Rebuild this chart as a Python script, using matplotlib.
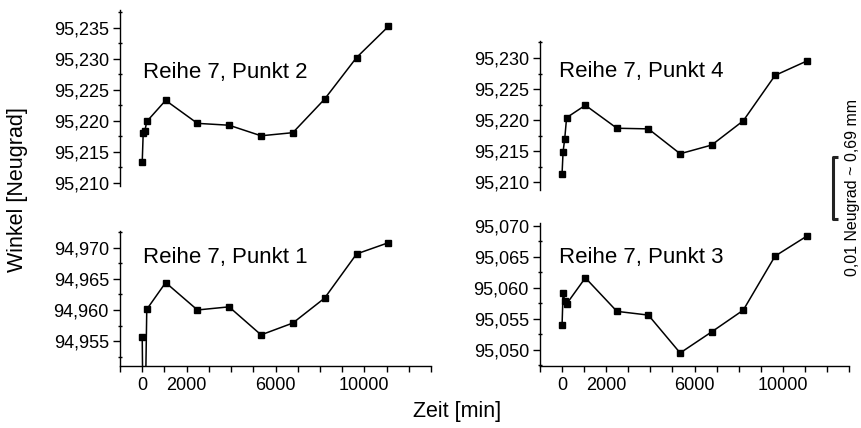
import matplotlib
matplotlib.use("Agg")
import matplotlib.pyplot as plt
from matplotlib.ticker import MultipleLocator, FuncFormatter, FixedLocator
import matplotlib.transforms as mtransforms

plt.rcParams['font.family'] = ['Liberation Sans', 'DejaVu Sans']

# Zeitpunkte [min]
zeit = [0, 45, 120, 205, 1055, 2485, 3910, 5350, 6780, 8210, 9650, 11080]

# Winkel [Neugrad]
punkt2 = [95.2133, 95.2181, 95.2184, 95.2199, 95.2233, 95.2196, 95.2193,
          95.2176, 95.2181, 95.2235, 95.2302, 95.2352]
punkt4 = [95.2114, 95.2149, 95.2170, 95.2204, 95.2224, 95.2187, 95.2186,
          95.2146, 95.2160, 95.2199, 95.2272, 95.2295]
# two early readings lie far below the plotted range
punkt1 = [94.9557, 94.9400, 94.9400, 94.9601, 94.9644, 94.9600, 94.9605,
          94.9560, 94.9579, 94.9619, 94.9690, 94.9708]
punkt3 = [95.0540, 95.0592, 95.0579, 95.0574, 95.0616, 95.0562, 95.0556,
          95.0495, 95.0529, 95.0564, 95.0651, 95.0683]

titles = ["Reihe 7, Punkt 2", "Reihe 7, Punkt 4", "Reihe 7, Punkt 1", "Reihe 7, Punkt 3"]
xtick_labels = {0: "0", 2000: "2000", 6000: "6000", 10000: "10000"}

W, H = 861, 428
fig = plt.figure(figsize=(W / 100, H / 100), dpi=100)


def add_ax(x0, x1, ytop, ybot):
    return fig.add_axes([x0 / W, 1 - ybot / H, (x1 - x0) / W, (ybot - ytop) / H])


# axes box in pixels, y limits, title centre (pixels), has x axis
panels = [
    (add_ax(120, 431, 10.3, 186.1), punkt2, (95.2095, 95.2378), (143, 72, 10.3, 186.1), False),
    (add_ax(540, 849, 41.2, 189.8), punkt4, (95.2088, 95.2327), (559, 72, 41.2, 189.8), False),
    (add_ax(120, 431, 230.9, 366), punkt1, (94.9510, 94.9727), (143, 257, 230.9, 366), True),
    (add_ax(540, 849, 223.2, 366), punkt3, (95.0474, 95.0704), (559, 257, 223.2, 366), True),
]

fmt = FuncFormatter(lambda v, p: f"{v:.3f}".replace(".", ","))

for (ax, werte, ylim, tpos, bottom), title in zip(panels, titles):
    ax.plot(zeit, werte, color="black", lw=1.1, marker="s", ms=5)
    ax.set_xlim(-1000, 13000)
    ax.set_ylim(*ylim)
    for s in ["top", "right"]:
        ax.spines[s].set_visible(False)
    ax.spines["left"].set_linewidth(1.0)
    ax.yaxis.set_major_locator(MultipleLocator(0.005))
    ax.yaxis.set_minor_locator(MultipleLocator(0.0025))
    ax.yaxis.set_major_formatter(fmt)
    ax.tick_params(axis="y", which="major", length=5, width=1, labelsize=13, pad=3)
    ax.tick_params(axis="y", which="minor", length=3, width=1, direction="inout")
    if bottom:
        ax.xaxis.set_major_locator(FixedLocator(list(range(-1000, 13001, 1000))))
        ax.xaxis.set_major_formatter(
            FuncFormatter(lambda v, p: xtick_labels.get(int(round(v)), "")))
        ax.tick_params(axis="x", length=4, width=1, labelsize=13, pad=4)
        ax.spines["bottom"].set_linewidth(1.0)
    else:
        ax.spines["bottom"].set_visible(False)
        ax.set_xticks([])
    x0 = ax.get_position().x0 * W
    w = ax.get_position().width * W
    tx, ty, ytop, ybot = tpos
    ax.text((tx - x0) / w, 1 - (ty - ytop) / (ybot - ytop), title,
            transform=ax.transAxes, fontsize=16, va="center", ha="left")

# scale bar: 0,01 Neugrad, drawn in the data units of the upper right panel
ax_tr = panels[1][0]
tr = mtransforms.blended_transform_factory(ax_tr.transAxes, ax_tr.transData)
top, bot = 95.2141, 95.2041
xb, xs = 0.948, 0.964
ax_tr.plot([xs, xb, xb, xs], [top, top, bot, bot], transform=tr, color="#222222",
           lw=2.2, clip_on=False, solid_capstyle="butt")

fig.text(852 / W, 1 - 188 / H, "0,01 Neugrad ~ 0,69 mm", rotation=90,
         ha="center", va="center", fontsize=11.5)
fig.text(18 / W, 1 - 190 / H, "Winkel [Neugrad]", rotation=90,
         ha="center", va="center", fontsize=15.5)
fig.text(457 / W, 1 - 411 / H, "Zeit [min]", ha="center", va="center", fontsize=15.5)

fig.savefig("out.png", dpi=100)
